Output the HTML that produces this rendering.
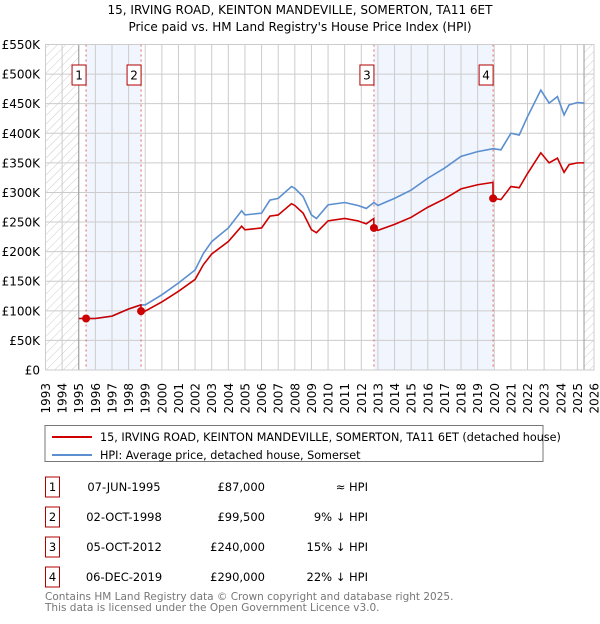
<!DOCTYPE html>
<html><head><meta charset="utf-8"><style>
body{margin:0;background:#fff;width:600px;height:620px;overflow:hidden;font-family:"DejaVu Sans","Liberation Sans",sans-serif;}
svg text{font-family:"DejaVu Sans","Liberation Sans",sans-serif;}
</style></head><body>
<svg id="c" width="600" height="620" xmlns="http://www.w3.org/2000/svg">
<defs><pattern id="hatch" width="6" height="6" patternUnits="userSpaceOnUse" patternTransform="rotate(45)"><line x1="0" y1="0" x2="0" y2="6" stroke="#ccc" stroke-width="1"/></pattern></defs>
<text x="300" y="14" text-anchor="middle" font-size="12">15, IRVING ROAD, KEINTON MANDEVILLE, SOMERTON, TA11 6ET</text>
<text x="300" y="31" text-anchor="middle" font-size="12">Price paid vs. HM Land Registry's House Price Index (HPI)</text>
<g id="plot"></g>
<rect x="45" y="425.5" width="498" height="36" fill="#fff" stroke="#777"/>
<line x1="52" y1="437" x2="92" y2="437" stroke="#cc0000" stroke-width="2"/>
<text x="100" y="441" font-size="11.2">15, IRVING ROAD, KEINTON MANDEVILLE, SOMERTON, TA11 6ET (detached house)</text>
<line x1="52" y1="455" x2="92" y2="455" stroke="#5b8fd0" stroke-width="2"/>
<text x="100" y="459" font-size="11.2">HPI: Average price, detached house, Somerset</text>
<g id="table" font-size="11.5"></g>
<text x="45" y="600" font-size="10.5" fill="#777">Contains HM Land Registry data © Crown copyright and database right 2025.</text>
<text x="45" y="611" font-size="10.5" fill="#777">This data is licensed under the Open Government Licence v3.0.</text>
</svg>
<script>
const hpiYears=[1995.0,1996,1997,1998,1998.75,1999,2000,2001,2002,2002.5,2003,2004,2004.8,2005,2006,2006.5,2007,2007.8,2008,2008.5,2009,2009.3,2010,2011,2011.8,2012.3,2012.76,2013,2014,2015,2016,2017,2018,2019,2019.93,2020.4,2021,2021.5,2022,2022.8,2023.3,2023.8,2024.2,2024.5,2025.0,2025.4];
const hpiValues=[87000,87000,91000,103000,110000,110000,127000,147000,169000,197000,217000,240000,269000,262000,265000,287000,290000,310000,307000,293000,262000,256000,279000,283000,278000,273000,283000,278000,290000,304000,324000,341000,361000,369000,374000,372000,400000,397000,428000,473000,451000,462000,431000,448000,452000,451000];
const priceYears=[1995.0,1995.44,1996,1997,1998,1998.74,1998.75,1999,2000,2001,2002,2002.5,2003,2004,2004.8,2005,2006,2006.5,2007,2007.8,2008,2008.5,2009,2009.3,2010,2011,2011.8,2012.3,2012.75,2012.76,2013,2014,2015,2016,2017,2018,2019,2019.92,2019.93,2020.4,2021,2021.5,2022,2022.8,2023.3,2023.8,2024.2,2024.5,2025.0,2025.4];
const priceValues=[87000,87000,87000,91000,103000,110000,99500,99500,115000,133000,153000,178000,196000,217000,243000,237000,240000,260000,262000,281000,278000,265000,237000,232000,252000,256000,252000,247000,256000,240000,236000,246000,258000,275000,289000,306000,313000,317000,290000,288000,310000,308000,332000,367000,350000,358000,334000,347000,350000,350000];
const saleYears=[1995.44,1998.75,2012.76,2019.93];
const salePrices=[87000,99500,240000,290000];
const saleDates=["07-JUN-1995","02-OCT-1998","05-OCT-2012","06-DEC-2019"];
const salePriceLabels=["£87,000","£99,500","£240,000","£290,000"];
const saleHpiLabels=["≈ HPI","9% ↓ HPI","15% ↓ HPI","22% ↓ HPI"];
const yTicks=[0,50000,100000,150000,200000,250000,300000,350000,400000,450000,500000,550000];
const yTickLabels=["£0","£50K","£100K","£150K","£200K","£250K","£300K","£350K","£400K","£450K","£500K","£550K"];
const xTicks=[1993,1994,1995,1996,1997,1998,1999,2000,2001,2002,2003,2004,2005,2006,2007,2008,2009,2010,2011,2012,2013,2014,2015,2016,2017,2018,2019,2020,2021,2022,2023,2024,2025,2026];

const X0=45.5,X1=594,Y0=370,Y1=44.5;
const xs=y=>X0+(y-1993)/(2026-1993)*(X1-X0);
const ys=v=>Y0-v/550000*(Y0-Y1);
const NS="http://www.w3.org/2000/svg";
const plot=document.getElementById('plot');
function mk(tag,attrs,parent){const e=document.createElementNS(NS,tag);for(const k in attrs)e.setAttribute(k,attrs[k]);(parent||plot).appendChild(e);return e;}

for(let i=0;i<saleYears.length;i+=2){
  const b=mk('rect',{x:xs(saleYears[i]),y:Y1,width:xs(saleYears[i+1])-xs(saleYears[i]),height:Y0-Y1,fill:'#eef3fd',opacity:0.8});
  
  
}
const h1=mk('rect',{x:X0,y:Y1,width:xs(1995)-X0,height:Y0-Y1,fill:'url(#hatch)'});


const h2=mk('rect',{x:xs(2025.4),y:Y1,width:X1-xs(2025.4),height:Y0-Y1,fill:'url(#hatch)'});


yTicks.forEach((v,i)=>{
  const l=mk('line',{x1:X0,x2:X1,y1:ys(v),y2:ys(v),stroke:'#ccc','stroke-width':1});
  
  
  const t=mk('text',{x:40,y:ys(v)+4.5,'text-anchor':'end','font-size':12});
  t.textContent=yTickLabels[i];
  
  
});
xTicks.forEach(y=>{
  const l=mk('line',{x1:xs(y),x2:xs(y),y1:Y1,y2:Y0,stroke:'#ccc','stroke-width':1});
  
  
  const t=mk('text',{x:0,y:0,'text-anchor':'end','font-size':12,transform:`translate(${xs(y)+4.5},383) rotate(-90)`});
  t.textContent=y;
  
  
});
const e1=mk('line',{x1:xs(1995),x2:xs(1995),y1:Y1,y2:Y0,stroke:'#999'});


const e2=mk('line',{x1:xs(2025.4),x2:xs(2025.4),y1:Y1,y2:Y0,stroke:'#999'});


saleYears.forEach((y,i)=>{
  const l=mk('line',{x1:xs(y),x2:xs(y),y1:Y1,y2:Y0,stroke:'#e06060','stroke-dasharray':'2,3','stroke-width':1});
  
  
  const r=mk('rect',{x:xs(y)-14,y:65,width:14,height:20,fill:'#fff',stroke:'#b00000'});
  
  
  const t=mk('text',{x:xs(y)-7,y:79.5,'text-anchor':'middle','font-size':12});
  t.textContent=i+1;
  
  
});
const hp=mk('polyline',{points:hpiYears.map((y,i)=>xs(y)+','+ys(hpiValues[i])).join(' '),fill:'none',stroke:'#5b8fd0','stroke-width':1.6});


const pp=mk('polyline',{points:priceYears.map((y,i)=>xs(y)+','+ys(priceValues[i])).join(' '),fill:'none',stroke:'#cc0000','stroke-width':1.6});


saleYears.forEach((y,i)=>{
  const c=mk('circle',{cx:xs(y),cy:ys(salePrices[i]),r:4,fill:'#cc0000'});
  
  
});
const fr=mk('rect',{x:X0,y:Y1,width:X1-X0,height:Y0-Y1,fill:'none',stroke:'#ccc'});


const tb=document.getElementById('table');
saleYears.forEach((y,i)=>{
  const cy=487+i*30;
  const r=mk('rect',{x:45.5,y:cy-10,width:14,height:20,fill:'#fff',stroke:'#b00000'},tb);
  
  
  const n=mk('text',{x:52.5,y:cy+4,'text-anchor':'middle'},tb);n.textContent=i+1;
  
  
  const d=mk('text',{x:124,y:cy+4,'text-anchor':'middle'},tb);d.textContent=saleDates[i];
  
  
  const p=mk('text',{x:265,y:cy+4,'text-anchor':'end'},tb);p.textContent=salePriceLabels[i];
  
  
  const hh=mk('text',{x:368,y:cy+4,'text-anchor':'end'},tb);hh.textContent=saleHpiLabels[i];
  
  
});
</script>
</body></html>
